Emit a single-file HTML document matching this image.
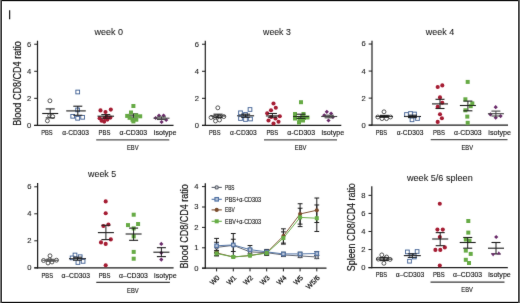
<!DOCTYPE html>
<html><head><meta charset="utf-8"><style>html,body{margin:0;padding:0;background:#fff;width:520px;height:303px;overflow:hidden}text{font-family:"Liberation Sans",sans-serif}</style></head><body>
<svg width="520" height="303" viewBox="0 0 520 303" style="display:block;will-change:transform">
<rect width="520" height="303" fill="#fff"/>
<defs><filter id="bl" x="-2%" y="-2%" width="104%" height="104%"><feConvolveMatrix order="3" kernelMatrix="0.01 0.05 0.01 0.05 0.76 0.05 0.01 0.05 0.01" edgeMode="none" preserveAlpha="false"/></filter></defs>
<g font-family='"Liberation Sans", sans-serif' filter="url(#bl)">
<line x1="9.60" y1="10.20" x2="9.60" y2="19.20" stroke="#1c1c1c" stroke-width="1.2"/>
<text x="94.60" y="34.90" font-size="9" text-anchor="start" textLength="28.50" lengthAdjust="spacingAndGlyphs" fill="#1a1a1a" stroke="#1a1a1a" stroke-width="0.08">week 0</text>
<line x1="37.50" y1="40.70" x2="37.50" y2="126.00" stroke="#1c1c1c" stroke-width="1.2"/>
<line x1="34.20" y1="125.40" x2="173.50" y2="125.40" stroke="#1c1c1c" stroke-width="1.3"/>
<line x1="34.20" y1="125.40" x2="37.50" y2="125.40" stroke="#1c1c1c" stroke-width="1.0"/>
<text x="31.30" y="127.85" font-size="7.6" text-anchor="end" fill="#2a2a2a" stroke="#2a2a2a" stroke-width="0.14">0</text>
<line x1="34.20" y1="98.34" x2="37.50" y2="98.34" stroke="#1c1c1c" stroke-width="1.0"/>
<text x="31.30" y="100.79" font-size="7.6" text-anchor="end" fill="#2a2a2a" stroke="#2a2a2a" stroke-width="0.14">2</text>
<line x1="34.20" y1="71.28" x2="37.50" y2="71.28" stroke="#1c1c1c" stroke-width="1.0"/>
<text x="31.30" y="73.73" font-size="7.6" text-anchor="end" fill="#2a2a2a" stroke="#2a2a2a" stroke-width="0.14">4</text>
<line x1="34.20" y1="44.22" x2="37.50" y2="44.22" stroke="#1c1c1c" stroke-width="1.0"/>
<text x="31.30" y="46.67" font-size="7.6" text-anchor="end" fill="#2a2a2a" stroke="#2a2a2a" stroke-width="0.14">6</text>
<text x="41.20" y="134.80" font-size="7.7" text-anchor="start" textLength="11.50" lengthAdjust="spacingAndGlyphs" fill="#151515" stroke="#151515" stroke-width="0.14">PBS</text>
<text x="62.30" y="134.80" font-size="7.7" text-anchor="start" textLength="26.60" lengthAdjust="spacingAndGlyphs" fill="#151515" stroke="#151515" stroke-width="0.14">α-CD303</text>
<text x="98.60" y="134.80" font-size="7.7" text-anchor="start" textLength="11.80" lengthAdjust="spacingAndGlyphs" fill="#151515" stroke="#151515" stroke-width="0.14">PBS</text>
<text x="119.50" y="134.80" font-size="7.7" text-anchor="start" textLength="27.70" lengthAdjust="spacingAndGlyphs" fill="#151515" stroke="#151515" stroke-width="0.14">α-CD303</text>
<text x="153.80" y="134.80" font-size="7.7" text-anchor="start" textLength="22.70" lengthAdjust="spacingAndGlyphs" fill="#151515" stroke="#151515" stroke-width="0.14">isotype</text>
<line x1="96.20" y1="139.90" x2="169.30" y2="139.90" stroke="#555" stroke-width="1.3"/>
<text x="127.00" y="150.20" font-size="7.7" text-anchor="start" textLength="11.60" lengthAdjust="spacingAndGlyphs" fill="#151515" stroke="#151515" stroke-width="0.14">EBV</text>
<circle cx="49.90" cy="100.80" r="1.95" fill="#fff" stroke="#3a3a3a" stroke-width="0.9"/>
<circle cx="49.60" cy="115.60" r="1.95" fill="#fff" stroke="#3a3a3a" stroke-width="0.9"/>
<circle cx="52.70" cy="116.50" r="1.95" fill="#fff" stroke="#3a3a3a" stroke-width="0.9"/>
<circle cx="47.40" cy="120.80" r="1.95" fill="#fff" stroke="#3a3a3a" stroke-width="0.9"/>
<line x1="42.20" y1="113.50" x2="58.20" y2="113.50" stroke="#1c1c1c" stroke-width="1.1"/>
<line x1="45.70" y1="108.90" x2="54.70" y2="108.90" stroke="#1c1c1c" stroke-width="1.1"/>
<line x1="45.70" y1="117.90" x2="54.70" y2="117.90" stroke="#1c1c1c" stroke-width="1.1"/>
<line x1="50.20" y1="108.90" x2="50.20" y2="117.90" stroke="#1c1c1c" stroke-width="0.9900000000000001"/>
<rect x="75.85" y="90.15" width="3.7" height="3.7" fill="#fff" stroke="#3e6196" stroke-width="0.95"/>
<rect x="75.75" y="108.05" width="3.7" height="3.7" fill="#fff" stroke="#3e6196" stroke-width="0.95"/>
<rect x="70.85" y="114.45" width="3.7" height="3.7" fill="#fff" stroke="#3e6196" stroke-width="0.95"/>
<rect x="75.75" y="116.45" width="3.7" height="3.7" fill="#fff" stroke="#3e6196" stroke-width="0.95"/>
<rect x="80.75" y="115.45" width="3.7" height="3.7" fill="#fff" stroke="#3e6196" stroke-width="0.95"/>
<line x1="66.25" y1="110.90" x2="85.75" y2="110.90" stroke="#1c1c1c" stroke-width="1.1"/>
<line x1="73.30" y1="106.20" x2="82.30" y2="106.20" stroke="#1c1c1c" stroke-width="1.1"/>
<line x1="73.30" y1="115.30" x2="82.30" y2="115.30" stroke="#1c1c1c" stroke-width="1.1"/>
<line x1="77.80" y1="106.20" x2="77.80" y2="115.30" stroke="#1c1c1c" stroke-width="0.9900000000000001"/>
<circle cx="100.50" cy="110.40" r="2.05" fill="#a51a33"/>
<circle cx="105.50" cy="112.00" r="2.05" fill="#a51a33"/>
<circle cx="110.80" cy="109.60" r="2.05" fill="#a51a33"/>
<circle cx="99.60" cy="118.30" r="2.05" fill="#a51a33"/>
<circle cx="101.60" cy="120.80" r="2.05" fill="#a51a33"/>
<circle cx="104.20" cy="121.60" r="2.05" fill="#a51a33"/>
<circle cx="107.40" cy="119.60" r="2.05" fill="#a51a33"/>
<circle cx="110.40" cy="117.60" r="2.05" fill="#a51a33"/>
<circle cx="104.60" cy="118.00" r="2.05" fill="#a51a33"/>
<circle cx="106.80" cy="116.80" r="2.05" fill="#a51a33"/>
<line x1="97.55" y1="116.20" x2="114.05" y2="116.20" stroke="#1c1c1c" stroke-width="1.1"/>
<line x1="101.30" y1="114.60" x2="110.30" y2="114.60" stroke="#1c1c1c" stroke-width="1.1"/>
<line x1="101.30" y1="118.20" x2="110.30" y2="118.20" stroke="#1c1c1c" stroke-width="1.1"/>
<line x1="105.80" y1="114.60" x2="105.80" y2="118.20" stroke="#1c1c1c" stroke-width="0.9900000000000001"/>
<line x1="126.40" y1="115.90" x2="140.40" y2="115.90" stroke="#1c1c1c" stroke-width="1.1"/>
<line x1="128.90" y1="113.90" x2="137.90" y2="113.90" stroke="#1c1c1c" stroke-width="1.1"/>
<line x1="128.90" y1="118.00" x2="137.90" y2="118.00" stroke="#1c1c1c" stroke-width="1.1"/>
<line x1="133.40" y1="113.90" x2="133.40" y2="118.00" stroke="#1c1c1c" stroke-width="0.9900000000000001"/>
<rect x="131.40" y="104.00" width="4.0" height="4.0" fill="#66aa44"/>
<rect x="129.00" y="110.50" width="4.0" height="4.0" fill="#66aa44"/>
<rect x="125.20" y="113.90" width="4.0" height="4.0" fill="#66aa44"/>
<rect x="138.20" y="114.30" width="4.0" height="4.0" fill="#66aa44"/>
<rect x="134.30" y="113.40" width="4.0" height="4.0" fill="#66aa44"/>
<rect x="130.50" y="117.70" width="4.0" height="4.0" fill="#66aa44"/>
<rect x="134.30" y="117.70" width="4.0" height="4.0" fill="#66aa44"/>
<rect x="127.60" y="115.80" width="4.0" height="4.0" fill="#66aa44"/>
<rect x="131.40" y="119.40" width="4.0" height="4.0" fill="#66aa44"/>
<path d="M159.00 113.40L161.10 115.50L159.00 117.60L156.90 115.50Z" fill="#6b2c6b"/>
<path d="M163.60 113.40L165.70 115.50L163.60 117.60L161.50 115.50Z" fill="#6b2c6b"/>
<path d="M155.70 115.90L157.80 118.00L155.70 120.10L153.60 118.00Z" fill="#6b2c6b"/>
<path d="M166.20 117.90L168.30 120.00L166.20 122.10L164.10 120.00Z" fill="#6b2c6b"/>
<path d="M161.60 119.90L163.70 122.00L161.60 124.10L159.50 122.00Z" fill="#6b2c6b"/>
<line x1="153.50" y1="118.20" x2="169.50" y2="118.20" stroke="#444" stroke-width="1.1"/>
<line x1="157.00" y1="116.90" x2="166.00" y2="116.90" stroke="#444" stroke-width="1.1"/>
<line x1="157.00" y1="119.50" x2="166.00" y2="119.50" stroke="#444" stroke-width="1.1"/>
<line x1="161.50" y1="116.90" x2="161.50" y2="119.50" stroke="#444" stroke-width="0.9900000000000001"/>
<text transform="translate(21.3,125.8) rotate(-90)" font-size="10" textLength="84.6" lengthAdjust="spacingAndGlyphs" fill="#151515" stroke="#151515" stroke-width="0.18">Blood CD8/CD4 ratio</text>
<text x="263.10" y="34.90" font-size="9" text-anchor="start" textLength="27.70" lengthAdjust="spacingAndGlyphs" fill="#1a1a1a" stroke="#1a1a1a" stroke-width="0.08">week 3</text>
<line x1="205.30" y1="40.70" x2="205.30" y2="126.00" stroke="#1c1c1c" stroke-width="1.2"/>
<line x1="202.00" y1="125.40" x2="341.30" y2="125.40" stroke="#1c1c1c" stroke-width="1.3"/>
<line x1="202.00" y1="125.40" x2="205.30" y2="125.40" stroke="#1c1c1c" stroke-width="1.0"/>
<text x="199.10" y="127.85" font-size="7.6" text-anchor="end" fill="#2a2a2a" stroke="#2a2a2a" stroke-width="0.14">0</text>
<line x1="202.00" y1="98.34" x2="205.30" y2="98.34" stroke="#1c1c1c" stroke-width="1.0"/>
<text x="199.10" y="100.79" font-size="7.6" text-anchor="end" fill="#2a2a2a" stroke="#2a2a2a" stroke-width="0.14">2</text>
<line x1="202.00" y1="71.28" x2="205.30" y2="71.28" stroke="#1c1c1c" stroke-width="1.0"/>
<text x="199.10" y="73.73" font-size="7.6" text-anchor="end" fill="#2a2a2a" stroke="#2a2a2a" stroke-width="0.14">4</text>
<line x1="202.00" y1="44.22" x2="205.30" y2="44.22" stroke="#1c1c1c" stroke-width="1.0"/>
<text x="199.10" y="46.67" font-size="7.6" text-anchor="end" fill="#2a2a2a" stroke="#2a2a2a" stroke-width="0.14">6</text>
<text x="209.00" y="134.80" font-size="7.7" text-anchor="start" textLength="11.50" lengthAdjust="spacingAndGlyphs" fill="#151515" stroke="#151515" stroke-width="0.14">PBS</text>
<text x="230.10" y="134.80" font-size="7.7" text-anchor="start" textLength="26.60" lengthAdjust="spacingAndGlyphs" fill="#151515" stroke="#151515" stroke-width="0.14">α-CD303</text>
<text x="266.40" y="134.80" font-size="7.7" text-anchor="start" textLength="11.80" lengthAdjust="spacingAndGlyphs" fill="#151515" stroke="#151515" stroke-width="0.14">PBS</text>
<text x="287.30" y="134.80" font-size="7.7" text-anchor="start" textLength="27.70" lengthAdjust="spacingAndGlyphs" fill="#151515" stroke="#151515" stroke-width="0.14">α-CD303</text>
<text x="321.60" y="134.80" font-size="7.7" text-anchor="start" textLength="22.70" lengthAdjust="spacingAndGlyphs" fill="#151515" stroke="#151515" stroke-width="0.14">isotype</text>
<line x1="264.00" y1="139.90" x2="337.00" y2="139.90" stroke="#555" stroke-width="1.3"/>
<text x="294.80" y="150.20" font-size="7.7" text-anchor="start" textLength="11.60" lengthAdjust="spacingAndGlyphs" fill="#151515" stroke="#151515" stroke-width="0.14">EBV</text>
<circle cx="217.80" cy="107.80" r="1.95" fill="#fff" stroke="#3a3a3a" stroke-width="0.9"/>
<circle cx="211.00" cy="117.50" r="1.95" fill="#fff" stroke="#3a3a3a" stroke-width="0.9"/>
<circle cx="215.00" cy="117.60" r="1.95" fill="#fff" stroke="#3a3a3a" stroke-width="0.9"/>
<circle cx="219.50" cy="117.00" r="1.95" fill="#fff" stroke="#3a3a3a" stroke-width="0.9"/>
<circle cx="223.80" cy="116.60" r="1.95" fill="#fff" stroke="#3a3a3a" stroke-width="0.9"/>
<circle cx="215.50" cy="121.00" r="1.95" fill="#fff" stroke="#3a3a3a" stroke-width="0.9"/>
<circle cx="219.50" cy="120.00" r="1.95" fill="#fff" stroke="#3a3a3a" stroke-width="0.9"/>
<line x1="210.50" y1="116.00" x2="225.50" y2="116.00" stroke="#1c1c1c" stroke-width="1.1"/>
<line x1="213.50" y1="114.20" x2="222.50" y2="114.20" stroke="#1c1c1c" stroke-width="1.1"/>
<line x1="213.50" y1="117.60" x2="222.50" y2="117.60" stroke="#1c1c1c" stroke-width="1.1"/>
<line x1="218.00" y1="114.20" x2="218.00" y2="117.60" stroke="#1c1c1c" stroke-width="0.9900000000000001"/>
<rect x="248.15" y="107.65" width="3.7" height="3.7" fill="#fff" stroke="#3e6196" stroke-width="0.95"/>
<rect x="238.65" y="110.95" width="3.7" height="3.7" fill="#fff" stroke="#3e6196" stroke-width="0.95"/>
<rect x="243.65" y="112.65" width="3.7" height="3.7" fill="#fff" stroke="#3e6196" stroke-width="0.95"/>
<rect x="238.65" y="116.65" width="3.7" height="3.7" fill="#fff" stroke="#3e6196" stroke-width="0.95"/>
<rect x="243.65" y="117.65" width="3.7" height="3.7" fill="#fff" stroke="#3e6196" stroke-width="0.95"/>
<rect x="248.65" y="117.15" width="3.7" height="3.7" fill="#fff" stroke="#3e6196" stroke-width="0.95"/>
<line x1="237.10" y1="115.80" x2="254.10" y2="115.80" stroke="#1c1c1c" stroke-width="1.1"/>
<line x1="241.10" y1="114.20" x2="250.10" y2="114.20" stroke="#1c1c1c" stroke-width="1.1"/>
<line x1="241.10" y1="117.40" x2="250.10" y2="117.40" stroke="#1c1c1c" stroke-width="1.1"/>
<line x1="245.60" y1="114.20" x2="245.60" y2="117.40" stroke="#1c1c1c" stroke-width="0.9900000000000001"/>
<circle cx="273.50" cy="103.50" r="2.05" fill="#a51a33"/>
<circle cx="275.80" cy="107.80" r="2.05" fill="#a51a33"/>
<circle cx="271.00" cy="110.20" r="2.05" fill="#a51a33"/>
<circle cx="267.20" cy="113.20" r="2.05" fill="#a51a33"/>
<circle cx="271.20" cy="117.00" r="2.05" fill="#a51a33"/>
<circle cx="275.50" cy="118.50" r="2.05" fill="#a51a33"/>
<circle cx="279.80" cy="116.20" r="2.05" fill="#a51a33"/>
<circle cx="268.50" cy="120.50" r="2.05" fill="#a51a33"/>
<circle cx="278.50" cy="121.80" r="2.05" fill="#a51a33"/>
<circle cx="273.50" cy="123.50" r="2.05" fill="#a51a33"/>
<line x1="265.90" y1="115.90" x2="278.90" y2="115.90" stroke="#1c1c1c" stroke-width="1.1"/>
<line x1="267.90" y1="113.50" x2="276.90" y2="113.50" stroke="#1c1c1c" stroke-width="1.1"/>
<line x1="267.90" y1="117.20" x2="276.90" y2="117.20" stroke="#1c1c1c" stroke-width="1.1"/>
<line x1="272.40" y1="113.50" x2="272.40" y2="117.20" stroke="#1c1c1c" stroke-width="0.9900000000000001"/>
<rect x="299.00" y="100.20" width="4.0" height="4.0" fill="#66aa44"/>
<rect x="293.00" y="112.00" width="4.0" height="4.0" fill="#66aa44"/>
<rect x="301.50" y="112.00" width="4.0" height="4.0" fill="#66aa44"/>
<rect x="293.00" y="116.50" width="4.0" height="4.0" fill="#66aa44"/>
<rect x="297.50" y="117.00" width="4.0" height="4.0" fill="#66aa44"/>
<rect x="302.00" y="116.00" width="4.0" height="4.0" fill="#66aa44"/>
<rect x="305.50" y="115.50" width="4.0" height="4.0" fill="#66aa44"/>
<rect x="297.00" y="120.50" width="4.0" height="4.0" fill="#66aa44"/>
<rect x="301.00" y="118.50" width="4.0" height="4.0" fill="#66aa44"/>
<line x1="293.00" y1="116.50" x2="309.00" y2="116.50" stroke="#1c1c1c" stroke-width="1.1"/>
<line x1="296.50" y1="114.20" x2="305.50" y2="114.20" stroke="#1c1c1c" stroke-width="1.1"/>
<line x1="296.50" y1="118.40" x2="305.50" y2="118.40" stroke="#1c1c1c" stroke-width="1.1"/>
<line x1="301.00" y1="114.20" x2="301.00" y2="118.40" stroke="#1c1c1c" stroke-width="0.9900000000000001"/>
<path d="M326.80 109.70L328.90 111.80L326.80 113.90L324.70 111.80Z" fill="#6b2c6b"/>
<path d="M331.10 111.40L333.20 113.50L331.10 115.60L329.00 113.50Z" fill="#6b2c6b"/>
<path d="M324.20 113.20L326.30 115.30L324.20 117.40L322.10 115.30Z" fill="#6b2c6b"/>
<path d="M332.90 114.90L335.00 117.00L332.90 119.10L330.80 117.00Z" fill="#6b2c6b"/>
<path d="M328.50 118.40L330.60 120.50L328.50 122.60L326.40 120.50Z" fill="#6b2c6b"/>
<line x1="321.20" y1="116.50" x2="337.20" y2="116.50" stroke="#444" stroke-width="1.1"/>
<line x1="324.70" y1="115.20" x2="333.70" y2="115.20" stroke="#444" stroke-width="1.1"/>
<line x1="324.70" y1="117.80" x2="333.70" y2="117.80" stroke="#444" stroke-width="1.1"/>
<line x1="329.20" y1="115.20" x2="329.20" y2="117.80" stroke="#444" stroke-width="0.9900000000000001"/>
<text x="425.80" y="34.90" font-size="9" text-anchor="start" textLength="28.40" lengthAdjust="spacingAndGlyphs" fill="#1a1a1a" stroke="#1a1a1a" stroke-width="0.08">week 4</text>
<line x1="372.00" y1="40.70" x2="372.00" y2="125.80" stroke="#1c1c1c" stroke-width="1.2"/>
<line x1="368.70" y1="125.20" x2="508.00" y2="125.20" stroke="#1c1c1c" stroke-width="1.3"/>
<line x1="368.70" y1="125.20" x2="372.00" y2="125.20" stroke="#1c1c1c" stroke-width="1.0"/>
<text x="365.80" y="127.65" font-size="7.6" text-anchor="end" fill="#2a2a2a" stroke="#2a2a2a" stroke-width="0.14">0</text>
<line x1="368.70" y1="98.14" x2="372.00" y2="98.14" stroke="#1c1c1c" stroke-width="1.0"/>
<text x="365.80" y="100.59" font-size="7.6" text-anchor="end" fill="#2a2a2a" stroke="#2a2a2a" stroke-width="0.14">2</text>
<line x1="368.70" y1="71.08" x2="372.00" y2="71.08" stroke="#1c1c1c" stroke-width="1.0"/>
<text x="365.80" y="73.53" font-size="7.6" text-anchor="end" fill="#2a2a2a" stroke="#2a2a2a" stroke-width="0.14">4</text>
<line x1="368.70" y1="44.02" x2="372.00" y2="44.02" stroke="#1c1c1c" stroke-width="1.0"/>
<text x="365.80" y="46.47" font-size="7.6" text-anchor="end" fill="#2a2a2a" stroke="#2a2a2a" stroke-width="0.14">6</text>
<text x="375.70" y="134.60" font-size="7.7" text-anchor="start" textLength="11.50" lengthAdjust="spacingAndGlyphs" fill="#151515" stroke="#151515" stroke-width="0.14">PBS</text>
<text x="396.80" y="134.60" font-size="7.7" text-anchor="start" textLength="26.60" lengthAdjust="spacingAndGlyphs" fill="#151515" stroke="#151515" stroke-width="0.14">α-CD303</text>
<text x="433.10" y="134.60" font-size="7.7" text-anchor="start" textLength="11.80" lengthAdjust="spacingAndGlyphs" fill="#151515" stroke="#151515" stroke-width="0.14">PBS</text>
<text x="454.00" y="134.60" font-size="7.7" text-anchor="start" textLength="27.70" lengthAdjust="spacingAndGlyphs" fill="#151515" stroke="#151515" stroke-width="0.14">α-CD303</text>
<text x="488.30" y="134.60" font-size="7.7" text-anchor="start" textLength="22.70" lengthAdjust="spacingAndGlyphs" fill="#151515" stroke="#151515" stroke-width="0.14">isotype</text>
<line x1="430.70" y1="139.70" x2="507.50" y2="139.70" stroke="#555" stroke-width="1.3"/>
<text x="461.50" y="150.00" font-size="7.7" text-anchor="start" textLength="11.60" lengthAdjust="spacingAndGlyphs" fill="#151515" stroke="#151515" stroke-width="0.14">EBV</text>
<circle cx="384.00" cy="111.80" r="1.95" fill="#fff" stroke="#3a3a3a" stroke-width="0.9"/>
<circle cx="377.80" cy="117.00" r="1.95" fill="#fff" stroke="#3a3a3a" stroke-width="0.9"/>
<circle cx="382.00" cy="118.60" r="1.95" fill="#fff" stroke="#3a3a3a" stroke-width="0.9"/>
<circle cx="386.50" cy="118.60" r="1.95" fill="#fff" stroke="#3a3a3a" stroke-width="0.9"/>
<circle cx="390.50" cy="117.00" r="1.95" fill="#fff" stroke="#3a3a3a" stroke-width="0.9"/>
<line x1="375.90" y1="116.50" x2="392.90" y2="116.50" stroke="#1c1c1c" stroke-width="1.1"/>
<line x1="379.90" y1="115.40" x2="388.90" y2="115.40" stroke="#1c1c1c" stroke-width="1.1"/>
<line x1="379.90" y1="117.40" x2="388.90" y2="117.40" stroke="#1c1c1c" stroke-width="1.1"/>
<line x1="384.40" y1="115.40" x2="384.40" y2="117.40" stroke="#1c1c1c" stroke-width="0.9900000000000001"/>
<rect x="404.65" y="112.65" width="3.7" height="3.7" fill="#fff" stroke="#3e6196" stroke-width="0.95"/>
<rect x="408.65" y="111.65" width="3.7" height="3.7" fill="#fff" stroke="#3e6196" stroke-width="0.95"/>
<rect x="412.65" y="112.15" width="3.7" height="3.7" fill="#fff" stroke="#3e6196" stroke-width="0.95"/>
<rect x="410.15" y="117.95" width="3.7" height="3.7" fill="#fff" stroke="#3e6196" stroke-width="0.95"/>
<rect x="415.65" y="116.65" width="3.7" height="3.7" fill="#fff" stroke="#3e6196" stroke-width="0.95"/>
<line x1="404.00" y1="116.50" x2="421.00" y2="116.50" stroke="#1c1c1c" stroke-width="1.1"/>
<line x1="408.00" y1="115.20" x2="417.00" y2="115.20" stroke="#1c1c1c" stroke-width="1.1"/>
<line x1="408.00" y1="117.60" x2="417.00" y2="117.60" stroke="#1c1c1c" stroke-width="1.1"/>
<line x1="412.50" y1="115.20" x2="412.50" y2="117.60" stroke="#1c1c1c" stroke-width="0.9900000000000001"/>
<circle cx="437.70" cy="87.00" r="2.05" fill="#a51a33"/>
<circle cx="442.30" cy="85.40" r="2.05" fill="#a51a33"/>
<circle cx="440.00" cy="97.40" r="2.05" fill="#a51a33"/>
<circle cx="442.30" cy="102.70" r="2.05" fill="#a51a33"/>
<circle cx="437.70" cy="106.90" r="2.05" fill="#a51a33"/>
<circle cx="440.00" cy="114.30" r="2.05" fill="#a51a33"/>
<circle cx="441.90" cy="118.20" r="2.05" fill="#a51a33"/>
<circle cx="437.70" cy="121.90" r="2.05" fill="#a51a33"/>
<line x1="432.00" y1="103.90" x2="448.00" y2="103.90" stroke="#1c1c1c" stroke-width="1.1"/>
<line x1="435.50" y1="99.30" x2="444.50" y2="99.30" stroke="#1c1c1c" stroke-width="1.1"/>
<line x1="435.50" y1="108.50" x2="444.50" y2="108.50" stroke="#1c1c1c" stroke-width="1.1"/>
<line x1="440.00" y1="99.30" x2="440.00" y2="108.50" stroke="#1c1c1c" stroke-width="0.9900000000000001"/>
<rect x="465.70" y="79.90" width="4.0" height="4.0" fill="#66aa44"/>
<rect x="463.40" y="97.30" width="4.0" height="4.0" fill="#66aa44"/>
<rect x="470.30" y="101.40" width="4.0" height="4.0" fill="#66aa44"/>
<rect x="468.70" y="104.20" width="4.0" height="4.0" fill="#66aa44"/>
<rect x="463.40" y="108.30" width="4.0" height="4.0" fill="#66aa44"/>
<rect x="465.30" y="114.60" width="4.0" height="4.0" fill="#66aa44"/>
<rect x="465.70" y="120.80" width="4.0" height="4.0" fill="#66aa44"/>
<line x1="459.90" y1="105.50" x2="475.90" y2="105.50" stroke="#1c1c1c" stroke-width="1.1"/>
<line x1="463.40" y1="101.10" x2="472.40" y2="101.10" stroke="#1c1c1c" stroke-width="1.1"/>
<line x1="463.40" y1="110.80" x2="472.40" y2="110.80" stroke="#1c1c1c" stroke-width="1.1"/>
<line x1="467.90" y1="101.10" x2="467.90" y2="110.80" stroke="#1c1c1c" stroke-width="0.9900000000000001"/>
<path d="M495.70 105.10L497.80 107.20L495.70 109.30L493.60 107.20Z" fill="#6b2c6b"/>
<path d="M490.40 112.30L492.50 114.40L490.40 116.50L488.30 114.40Z" fill="#6b2c6b"/>
<path d="M495.70 115.60L497.80 117.70L495.70 119.80L493.60 117.70Z" fill="#6b2c6b"/>
<path d="M500.60 114.00L502.70 116.10L500.60 118.20L498.50 116.10Z" fill="#6b2c6b"/>
<line x1="487.90" y1="113.70" x2="503.90" y2="113.70" stroke="#444" stroke-width="1.1"/>
<line x1="491.40" y1="111.10" x2="500.40" y2="111.10" stroke="#444" stroke-width="1.1"/>
<line x1="491.40" y1="116.00" x2="500.40" y2="116.00" stroke="#444" stroke-width="1.1"/>
<line x1="495.90" y1="111.10" x2="495.90" y2="116.00" stroke="#444" stroke-width="0.9900000000000001"/>
<text x="88.10" y="177.30" font-size="9" text-anchor="start" textLength="28.10" lengthAdjust="spacingAndGlyphs" fill="#1a1a1a" stroke="#1a1a1a" stroke-width="0.08">week 5</text>
<line x1="37.60" y1="183.00" x2="37.60" y2="268.40" stroke="#1c1c1c" stroke-width="1.2"/>
<line x1="34.30" y1="267.80" x2="173.60" y2="267.80" stroke="#1c1c1c" stroke-width="1.3"/>
<line x1="34.30" y1="267.80" x2="37.60" y2="267.80" stroke="#1c1c1c" stroke-width="1.0"/>
<text x="31.40" y="270.25" font-size="7.6" text-anchor="end" fill="#2a2a2a" stroke="#2a2a2a" stroke-width="0.14">0</text>
<line x1="34.30" y1="240.80" x2="37.60" y2="240.80" stroke="#1c1c1c" stroke-width="1.0"/>
<text x="31.40" y="243.25" font-size="7.6" text-anchor="end" fill="#2a2a2a" stroke="#2a2a2a" stroke-width="0.14">2</text>
<line x1="34.30" y1="213.80" x2="37.60" y2="213.80" stroke="#1c1c1c" stroke-width="1.0"/>
<text x="31.40" y="216.25" font-size="7.6" text-anchor="end" fill="#2a2a2a" stroke="#2a2a2a" stroke-width="0.14">4</text>
<line x1="34.30" y1="186.80" x2="37.60" y2="186.80" stroke="#1c1c1c" stroke-width="1.0"/>
<text x="31.40" y="189.25" font-size="7.6" text-anchor="end" fill="#2a2a2a" stroke="#2a2a2a" stroke-width="0.14">6</text>
<text x="41.50" y="277.60" font-size="7.7" text-anchor="start" textLength="11.50" lengthAdjust="spacingAndGlyphs" fill="#151515" stroke="#151515" stroke-width="0.14">PBS</text>
<text x="61.50" y="277.60" font-size="7.7" text-anchor="start" textLength="28.50" lengthAdjust="spacingAndGlyphs" fill="#151515" stroke="#151515" stroke-width="0.14">α–CD303</text>
<text x="98.70" y="277.60" font-size="7.7" text-anchor="start" textLength="11.80" lengthAdjust="spacingAndGlyphs" fill="#151515" stroke="#151515" stroke-width="0.14">PBS</text>
<text x="118.90" y="277.60" font-size="7.7" text-anchor="start" textLength="29.00" lengthAdjust="spacingAndGlyphs" fill="#151515" stroke="#151515" stroke-width="0.14">α–CD303</text>
<text x="154.10" y="277.60" font-size="7.7" text-anchor="start" textLength="22.50" lengthAdjust="spacingAndGlyphs" fill="#151515" stroke="#151515" stroke-width="0.14">isotype</text>
<line x1="96.30" y1="282.30" x2="169.90" y2="282.30" stroke="#3a3a3a" stroke-width="1.3"/>
<text x="127.10" y="292.60" font-size="7.7" text-anchor="start" textLength="11.60" lengthAdjust="spacingAndGlyphs" fill="#151515" stroke="#151515" stroke-width="0.14">EBV</text>
<circle cx="50.00" cy="255.80" r="1.95" fill="#fff" stroke="#3a3a3a" stroke-width="0.9"/>
<circle cx="43.50" cy="260.50" r="1.95" fill="#fff" stroke="#3a3a3a" stroke-width="0.9"/>
<circle cx="49.60" cy="259.80" r="1.95" fill="#fff" stroke="#3a3a3a" stroke-width="0.9"/>
<circle cx="52.00" cy="262.00" r="1.95" fill="#fff" stroke="#3a3a3a" stroke-width="0.9"/>
<circle cx="56.50" cy="260.20" r="1.95" fill="#fff" stroke="#3a3a3a" stroke-width="0.9"/>
<circle cx="48.00" cy="263.00" r="1.95" fill="#fff" stroke="#3a3a3a" stroke-width="0.9"/>
<line x1="42.20" y1="260.30" x2="58.20" y2="260.30" stroke="#555" stroke-width="1.1"/>
<line x1="45.70" y1="259.30" x2="54.70" y2="259.30" stroke="#555" stroke-width="1.1"/>
<line x1="45.70" y1="261.30" x2="54.70" y2="261.30" stroke="#555" stroke-width="1.1"/>
<line x1="50.20" y1="259.30" x2="50.20" y2="261.30" stroke="#555" stroke-width="0.9900000000000001"/>
<rect x="73.15" y="253.15" width="3.7" height="3.7" fill="#fff" stroke="#3e6196" stroke-width="0.95"/>
<rect x="78.35" y="254.85" width="3.7" height="3.7" fill="#fff" stroke="#3e6196" stroke-width="0.95"/>
<rect x="70.25" y="256.05" width="3.7" height="3.7" fill="#fff" stroke="#3e6196" stroke-width="0.95"/>
<rect x="76.05" y="260.65" width="3.7" height="3.7" fill="#fff" stroke="#3e6196" stroke-width="0.95"/>
<rect x="81.25" y="259.55" width="3.7" height="3.7" fill="#fff" stroke="#3e6196" stroke-width="0.95"/>
<line x1="69.00" y1="258.70" x2="86.00" y2="258.70" stroke="#1c1c1c" stroke-width="1.1"/>
<line x1="73.00" y1="257.20" x2="82.00" y2="257.20" stroke="#1c1c1c" stroke-width="1.1"/>
<line x1="73.00" y1="260.20" x2="82.00" y2="260.20" stroke="#1c1c1c" stroke-width="1.1"/>
<line x1="77.50" y1="257.20" x2="77.50" y2="260.20" stroke="#1c1c1c" stroke-width="0.9900000000000001"/>
<circle cx="105.70" cy="201.40" r="2.05" fill="#a51a33"/>
<circle cx="105.70" cy="213.30" r="2.05" fill="#a51a33"/>
<circle cx="103.40" cy="226.00" r="2.05" fill="#a51a33"/>
<circle cx="108.40" cy="224.50" r="2.05" fill="#a51a33"/>
<circle cx="101.00" cy="242.40" r="2.05" fill="#a51a33"/>
<circle cx="105.70" cy="243.90" r="2.05" fill="#a51a33"/>
<circle cx="110.80" cy="239.40" r="2.05" fill="#a51a33"/>
<circle cx="105.70" cy="265.20" r="2.05" fill="#a51a33"/>
<line x1="97.90" y1="232.60" x2="113.90" y2="232.60" stroke="#1c1c1c" stroke-width="1.1"/>
<line x1="101.40" y1="225.30" x2="110.40" y2="225.30" stroke="#1c1c1c" stroke-width="1.1"/>
<line x1="101.40" y1="239.60" x2="110.40" y2="239.60" stroke="#1c1c1c" stroke-width="1.1"/>
<line x1="105.90" y1="225.30" x2="105.90" y2="239.60" stroke="#1c1c1c" stroke-width="0.9900000000000001"/>
<rect x="131.70" y="212.70" width="4.0" height="4.0" fill="#66aa44"/>
<rect x="126.00" y="223.10" width="4.0" height="4.0" fill="#66aa44"/>
<rect x="136.10" y="222.00" width="4.0" height="4.0" fill="#66aa44"/>
<rect x="131.70" y="226.40" width="4.0" height="4.0" fill="#66aa44"/>
<rect x="131.70" y="234.40" width="4.0" height="4.0" fill="#66aa44"/>
<rect x="131.70" y="249.90" width="4.0" height="4.0" fill="#66aa44"/>
<rect x="131.70" y="256.70" width="4.0" height="4.0" fill="#66aa44"/>
<line x1="125.60" y1="234.00" x2="141.60" y2="234.00" stroke="#1c1c1c" stroke-width="1.1"/>
<line x1="129.10" y1="228.10" x2="138.10" y2="228.10" stroke="#1c1c1c" stroke-width="1.1"/>
<line x1="129.10" y1="240.30" x2="138.10" y2="240.30" stroke="#1c1c1c" stroke-width="1.1"/>
<line x1="133.60" y1="228.10" x2="133.60" y2="240.30" stroke="#1c1c1c" stroke-width="0.9900000000000001"/>
<path d="M161.30 241.80L163.40 243.90L161.30 246.00L159.20 243.90Z" fill="#6b2c6b"/>
<path d="M161.30 250.70L163.40 252.80L161.30 254.90L159.20 252.80Z" fill="#6b2c6b"/>
<path d="M161.30 257.50L163.40 259.60L161.30 261.70L159.20 259.60Z" fill="#6b2c6b"/>
<line x1="153.40" y1="252.20" x2="169.40" y2="252.20" stroke="#1c1c1c" stroke-width="1.1"/>
<line x1="156.90" y1="247.70" x2="165.90" y2="247.70" stroke="#1c1c1c" stroke-width="1.1"/>
<line x1="156.90" y1="256.60" x2="165.90" y2="256.60" stroke="#1c1c1c" stroke-width="1.1"/>
<line x1="161.40" y1="247.70" x2="161.40" y2="256.60" stroke="#1c1c1c" stroke-width="0.9900000000000001"/>
<text x="407.00" y="180.50" font-size="9" text-anchor="start" textLength="65.70" lengthAdjust="spacingAndGlyphs" fill="#1a1a1a" stroke="#1a1a1a" stroke-width="0.08">week 5/6 spleen</text>
<line x1="371.80" y1="186.30" x2="371.80" y2="268.20" stroke="#1c1c1c" stroke-width="1.2"/>
<line x1="368.50" y1="267.60" x2="507.80" y2="267.60" stroke="#1c1c1c" stroke-width="1.3"/>
<line x1="368.50" y1="267.60" x2="371.80" y2="267.60" stroke="#1c1c1c" stroke-width="1.0"/>
<text x="365.60" y="270.05" font-size="7.6" text-anchor="end" fill="#2a2a2a" stroke="#2a2a2a" stroke-width="0.14">0</text>
<line x1="368.50" y1="249.54" x2="371.80" y2="249.54" stroke="#1c1c1c" stroke-width="1.0"/>
<text x="365.60" y="251.99" font-size="7.6" text-anchor="end" fill="#2a2a2a" stroke="#2a2a2a" stroke-width="0.14">2</text>
<line x1="368.50" y1="231.48" x2="371.80" y2="231.48" stroke="#1c1c1c" stroke-width="1.0"/>
<text x="365.60" y="233.93" font-size="7.6" text-anchor="end" fill="#2a2a2a" stroke="#2a2a2a" stroke-width="0.14">4</text>
<line x1="368.50" y1="213.42" x2="371.80" y2="213.42" stroke="#1c1c1c" stroke-width="1.0"/>
<text x="365.60" y="215.87" font-size="7.6" text-anchor="end" fill="#2a2a2a" stroke="#2a2a2a" stroke-width="0.14">6</text>
<line x1="368.50" y1="195.36" x2="371.80" y2="195.36" stroke="#1c1c1c" stroke-width="1.0"/>
<text x="365.60" y="197.81" font-size="7.6" text-anchor="end" fill="#2a2a2a" stroke="#2a2a2a" stroke-width="0.14">8</text>
<text x="375.70" y="277.40" font-size="7.7" text-anchor="start" textLength="11.50" lengthAdjust="spacingAndGlyphs" fill="#151515" stroke="#151515" stroke-width="0.14">PBS</text>
<text x="395.70" y="277.40" font-size="7.7" text-anchor="start" textLength="28.50" lengthAdjust="spacingAndGlyphs" fill="#151515" stroke="#151515" stroke-width="0.14">α–CD303</text>
<text x="432.90" y="277.40" font-size="7.7" text-anchor="start" textLength="11.80" lengthAdjust="spacingAndGlyphs" fill="#151515" stroke="#151515" stroke-width="0.14">PBS</text>
<text x="453.10" y="277.40" font-size="7.7" text-anchor="start" textLength="29.00" lengthAdjust="spacingAndGlyphs" fill="#151515" stroke="#151515" stroke-width="0.14">α–CD303</text>
<text x="488.30" y="277.40" font-size="7.7" text-anchor="start" textLength="22.50" lengthAdjust="spacingAndGlyphs" fill="#151515" stroke="#151515" stroke-width="0.14">isotype</text>
<line x1="430.50" y1="282.10" x2="504.50" y2="282.10" stroke="#3a3a3a" stroke-width="1.3"/>
<text x="461.30" y="292.40" font-size="7.7" text-anchor="start" textLength="11.60" lengthAdjust="spacingAndGlyphs" fill="#151515" stroke="#151515" stroke-width="0.14">EBV</text>
<circle cx="381.80" cy="254.90" r="1.95" fill="#fff" stroke="#3a3a3a" stroke-width="0.9"/>
<circle cx="378.30" cy="259.10" r="1.95" fill="#fff" stroke="#3a3a3a" stroke-width="0.9"/>
<circle cx="386.60" cy="257.00" r="1.95" fill="#fff" stroke="#3a3a3a" stroke-width="0.9"/>
<circle cx="390.10" cy="259.40" r="1.95" fill="#fff" stroke="#3a3a3a" stroke-width="0.9"/>
<circle cx="383.90" cy="263.30" r="1.95" fill="#fff" stroke="#3a3a3a" stroke-width="0.9"/>
<circle cx="385.20" cy="258.80" r="1.95" fill="#fff" stroke="#3a3a3a" stroke-width="0.9"/>
<line x1="376.20" y1="259.10" x2="392.20" y2="259.10" stroke="#1c1c1c" stroke-width="1.1"/>
<line x1="379.70" y1="257.60" x2="388.70" y2="257.60" stroke="#1c1c1c" stroke-width="1.1"/>
<line x1="379.70" y1="260.60" x2="388.70" y2="260.60" stroke="#1c1c1c" stroke-width="1.1"/>
<line x1="384.20" y1="257.60" x2="384.20" y2="260.60" stroke="#1c1c1c" stroke-width="0.9900000000000001"/>
<rect x="405.55" y="250.05" width="3.7" height="3.7" fill="#fff" stroke="#3e6196" stroke-width="0.95"/>
<rect x="415.25" y="249.65" width="3.7" height="3.7" fill="#fff" stroke="#3e6196" stroke-width="0.95"/>
<rect x="409.75" y="253.75" width="3.7" height="3.7" fill="#fff" stroke="#3e6196" stroke-width="0.95"/>
<rect x="412.45" y="255.15" width="3.7" height="3.7" fill="#fff" stroke="#3e6196" stroke-width="0.95"/>
<rect x="407.65" y="259.35" width="3.7" height="3.7" fill="#fff" stroke="#3e6196" stroke-width="0.95"/>
<line x1="403.80" y1="255.60" x2="420.80" y2="255.60" stroke="#1c1c1c" stroke-width="1.1"/>
<line x1="407.80" y1="253.80" x2="416.80" y2="253.80" stroke="#1c1c1c" stroke-width="1.1"/>
<line x1="407.80" y1="257.40" x2="416.80" y2="257.40" stroke="#1c1c1c" stroke-width="1.1"/>
<line x1="412.30" y1="253.80" x2="412.30" y2="257.40" stroke="#1c1c1c" stroke-width="0.9900000000000001"/>
<circle cx="439.80" cy="203.70" r="2.05" fill="#a51a33"/>
<circle cx="437.40" cy="229.60" r="2.05" fill="#a51a33"/>
<circle cx="442.80" cy="229.60" r="2.05" fill="#a51a33"/>
<circle cx="439.80" cy="237.00" r="2.05" fill="#a51a33"/>
<circle cx="444.80" cy="247.40" r="2.05" fill="#a51a33"/>
<circle cx="435.40" cy="249.90" r="2.05" fill="#a51a33"/>
<circle cx="440.30" cy="249.90" r="2.05" fill="#a51a33"/>
<circle cx="439.80" cy="265.50" r="2.05" fill="#a51a33"/>
<line x1="432.20" y1="239.00" x2="448.20" y2="239.00" stroke="#1c1c1c" stroke-width="1.1"/>
<line x1="435.70" y1="232.60" x2="444.70" y2="232.60" stroke="#1c1c1c" stroke-width="1.1"/>
<line x1="435.70" y1="245.70" x2="444.70" y2="245.70" stroke="#1c1c1c" stroke-width="1.1"/>
<line x1="440.20" y1="232.60" x2="440.20" y2="245.70" stroke="#1c1c1c" stroke-width="0.9900000000000001"/>
<rect x="466.30" y="219.00" width="4.0" height="4.0" fill="#66aa44"/>
<rect x="466.30" y="230.60" width="4.0" height="4.0" fill="#66aa44"/>
<rect x="463.80" y="237.50" width="4.0" height="4.0" fill="#66aa44"/>
<rect x="467.50" y="238.70" width="4.0" height="4.0" fill="#66aa44"/>
<rect x="463.80" y="248.60" width="4.0" height="4.0" fill="#66aa44"/>
<rect x="468.70" y="251.90" width="4.0" height="4.0" fill="#66aa44"/>
<rect x="463.80" y="257.80" width="4.0" height="4.0" fill="#66aa44"/>
<rect x="467.00" y="261.00" width="4.0" height="4.0" fill="#66aa44"/>
<line x1="459.70" y1="242.50" x2="475.70" y2="242.50" stroke="#1c1c1c" stroke-width="1.1"/>
<line x1="463.20" y1="237.50" x2="472.20" y2="237.50" stroke="#1c1c1c" stroke-width="1.1"/>
<line x1="463.20" y1="248.20" x2="472.20" y2="248.20" stroke="#1c1c1c" stroke-width="1.1"/>
<line x1="467.70" y1="237.50" x2="467.70" y2="248.20" stroke="#1c1c1c" stroke-width="0.9900000000000001"/>
<path d="M496.20 234.90L498.30 237.00L496.20 239.10L494.10 237.00Z" fill="#6b2c6b"/>
<line x1="488.00" y1="248.20" x2="504.00" y2="248.20" stroke="#1c1c1c" stroke-width="1.1"/>
<line x1="491.50" y1="242.50" x2="500.50" y2="242.50" stroke="#1c1c1c" stroke-width="1.1"/>
<line x1="491.50" y1="253.90" x2="500.50" y2="253.90" stroke="#1c1c1c" stroke-width="1.1"/>
<line x1="496.00" y1="242.50" x2="496.00" y2="253.90" stroke="#1c1c1c" stroke-width="0.9900000000000001"/>
<path d="M490.9 253.2L495.3 253.2L493.1 256.6Z" fill="#6b2c6b"/>
<path d="M496.6 254.6L501.0 254.6L498.8 251.2Z" fill="#6b2c6b"/>
<text transform="translate(355.3,271.2) rotate(-90)" font-size="10" textLength="88.0" lengthAdjust="spacingAndGlyphs" fill="#151515" stroke="#151515" stroke-width="0.18">Spleen CD8/CD4 ratio</text>
<line x1="205.30" y1="183.20" x2="205.30" y2="268.80" stroke="#1c1c1c" stroke-width="1.3"/>
<line x1="202.00" y1="268.20" x2="326.50" y2="268.20" stroke="#1c1c1c" stroke-width="1.3"/>
<line x1="202.00" y1="268.20" x2="205.30" y2="268.20" stroke="#1c1c1c" stroke-width="1.0"/>
<text x="198.50" y="270.65" font-size="7.6" text-anchor="end" fill="#2a2a2a" stroke="#2a2a2a" stroke-width="0.14">0</text>
<line x1="202.00" y1="247.80" x2="205.30" y2="247.80" stroke="#1c1c1c" stroke-width="1.0"/>
<text x="198.50" y="250.25" font-size="7.6" text-anchor="end" fill="#2a2a2a" stroke="#2a2a2a" stroke-width="0.14">1</text>
<line x1="202.00" y1="227.40" x2="205.30" y2="227.40" stroke="#1c1c1c" stroke-width="1.0"/>
<text x="198.50" y="229.85" font-size="7.6" text-anchor="end" fill="#2a2a2a" stroke="#2a2a2a" stroke-width="0.14">2</text>
<line x1="202.00" y1="207.00" x2="205.30" y2="207.00" stroke="#1c1c1c" stroke-width="1.0"/>
<text x="198.50" y="209.45" font-size="7.6" text-anchor="end" fill="#2a2a2a" stroke="#2a2a2a" stroke-width="0.14">3</text>
<line x1="202.00" y1="186.60" x2="205.30" y2="186.60" stroke="#1c1c1c" stroke-width="1.0"/>
<text x="198.50" y="189.05" font-size="7.6" text-anchor="end" fill="#2a2a2a" stroke="#2a2a2a" stroke-width="0.14">4</text>
<text transform="translate(188.2,268.4) rotate(-90)" font-size="10" textLength="84.2" lengthAdjust="spacingAndGlyphs" fill="#151515" stroke="#151515" stroke-width="0.18">Blood CD8/CD4 ratio</text>
<line x1="216.60" y1="268.20" x2="216.60" y2="271.40" stroke="#1c1c1c" stroke-width="1.0"/>
<text transform="translate(220.10,278.20) rotate(-45)" font-size="7" text-anchor="end" fill="#151515" stroke="#151515" stroke-width="0.22">W0</text>
<line x1="233.30" y1="268.20" x2="233.30" y2="271.40" stroke="#1c1c1c" stroke-width="1.0"/>
<text transform="translate(236.80,278.20) rotate(-45)" font-size="7" text-anchor="end" fill="#151515" stroke="#151515" stroke-width="0.22">W1</text>
<line x1="250.00" y1="268.20" x2="250.00" y2="271.40" stroke="#1c1c1c" stroke-width="1.0"/>
<text transform="translate(253.50,278.20) rotate(-45)" font-size="7" text-anchor="end" fill="#151515" stroke="#151515" stroke-width="0.22">W2</text>
<line x1="266.70" y1="268.20" x2="266.70" y2="271.40" stroke="#1c1c1c" stroke-width="1.0"/>
<text transform="translate(270.20,278.20) rotate(-45)" font-size="7" text-anchor="end" fill="#151515" stroke="#151515" stroke-width="0.22">W3</text>
<line x1="283.40" y1="268.20" x2="283.40" y2="271.40" stroke="#1c1c1c" stroke-width="1.0"/>
<text transform="translate(286.90,278.20) rotate(-45)" font-size="7" text-anchor="end" fill="#151515" stroke="#151515" stroke-width="0.22">W4</text>
<line x1="300.10" y1="268.20" x2="300.10" y2="271.40" stroke="#1c1c1c" stroke-width="1.0"/>
<text transform="translate(303.60,278.20) rotate(-45)" font-size="7" text-anchor="end" fill="#151515" stroke="#151515" stroke-width="0.22">W5</text>
<line x1="316.80" y1="268.20" x2="316.80" y2="271.40" stroke="#1c1c1c" stroke-width="1.0"/>
<text transform="translate(320.30,278.20) rotate(-45)" font-size="7" text-anchor="end" fill="#151515" stroke="#151515" stroke-width="0.22">W5/6</text>
<line x1="216.60" y1="242.29" x2="216.60" y2="252.49" stroke="#1c1c1c" stroke-width="1.0"/>
<line x1="214.20" y1="242.29" x2="219.00" y2="242.29" stroke="#1c1c1c" stroke-width="1.0"/>
<line x1="214.20" y1="252.49" x2="219.00" y2="252.49" stroke="#1c1c1c" stroke-width="1.0"/>
<line x1="233.30" y1="239.23" x2="233.30" y2="251.47" stroke="#1c1c1c" stroke-width="1.0"/>
<line x1="230.90" y1="239.23" x2="235.70" y2="239.23" stroke="#1c1c1c" stroke-width="1.0"/>
<line x1="230.90" y1="251.47" x2="235.70" y2="251.47" stroke="#1c1c1c" stroke-width="1.0"/>
<line x1="250.00" y1="248.82" x2="250.00" y2="254.94" stroke="#1c1c1c" stroke-width="1.0"/>
<line x1="247.60" y1="248.82" x2="252.40" y2="248.82" stroke="#1c1c1c" stroke-width="1.0"/>
<line x1="247.60" y1="254.94" x2="252.40" y2="254.94" stroke="#1c1c1c" stroke-width="1.0"/>
<line x1="266.70" y1="250.25" x2="266.70" y2="255.14" stroke="#1c1c1c" stroke-width="1.0"/>
<line x1="264.30" y1="250.25" x2="269.10" y2="250.25" stroke="#1c1c1c" stroke-width="1.0"/>
<line x1="264.30" y1="255.14" x2="269.10" y2="255.14" stroke="#1c1c1c" stroke-width="1.0"/>
<line x1="283.40" y1="253.31" x2="283.40" y2="256.57" stroke="#1c1c1c" stroke-width="1.0"/>
<line x1="281.00" y1="253.31" x2="285.80" y2="253.31" stroke="#1c1c1c" stroke-width="1.0"/>
<line x1="281.00" y1="256.57" x2="285.80" y2="256.57" stroke="#1c1c1c" stroke-width="1.0"/>
<line x1="300.10" y1="254.33" x2="300.10" y2="257.59" stroke="#1c1c1c" stroke-width="1.0"/>
<line x1="297.70" y1="254.33" x2="302.50" y2="254.33" stroke="#1c1c1c" stroke-width="1.0"/>
<line x1="297.70" y1="257.59" x2="302.50" y2="257.59" stroke="#1c1c1c" stroke-width="1.0"/>
<line x1="316.80" y1="255.35" x2="316.80" y2="258.61" stroke="#1c1c1c" stroke-width="1.0"/>
<line x1="314.40" y1="255.35" x2="319.20" y2="255.35" stroke="#1c1c1c" stroke-width="1.0"/>
<line x1="314.40" y1="258.61" x2="319.20" y2="258.61" stroke="#1c1c1c" stroke-width="1.0"/>
<line x1="216.60" y1="238.42" x2="216.60" y2="253.10" stroke="#1c1c1c" stroke-width="1.0"/>
<line x1="214.20" y1="238.42" x2="219.00" y2="238.42" stroke="#1c1c1c" stroke-width="1.0"/>
<line x1="214.20" y1="253.10" x2="219.00" y2="253.10" stroke="#1c1c1c" stroke-width="1.0"/>
<line x1="233.30" y1="233.52" x2="233.30" y2="256.37" stroke="#1c1c1c" stroke-width="1.0"/>
<line x1="230.90" y1="233.52" x2="235.70" y2="233.52" stroke="#1c1c1c" stroke-width="1.0"/>
<line x1="230.90" y1="256.37" x2="235.70" y2="256.37" stroke="#1c1c1c" stroke-width="1.0"/>
<line x1="250.00" y1="245.56" x2="250.00" y2="253.72" stroke="#1c1c1c" stroke-width="1.0"/>
<line x1="247.60" y1="245.56" x2="252.40" y2="245.56" stroke="#1c1c1c" stroke-width="1.0"/>
<line x1="247.60" y1="253.72" x2="252.40" y2="253.72" stroke="#1c1c1c" stroke-width="1.0"/>
<line x1="266.70" y1="249.43" x2="266.70" y2="254.33" stroke="#1c1c1c" stroke-width="1.0"/>
<line x1="264.30" y1="249.43" x2="269.10" y2="249.43" stroke="#1c1c1c" stroke-width="1.0"/>
<line x1="264.30" y1="254.33" x2="269.10" y2="254.33" stroke="#1c1c1c" stroke-width="1.0"/>
<line x1="283.40" y1="252.29" x2="283.40" y2="255.55" stroke="#1c1c1c" stroke-width="1.0"/>
<line x1="281.00" y1="252.29" x2="285.80" y2="252.29" stroke="#1c1c1c" stroke-width="1.0"/>
<line x1="281.00" y1="255.55" x2="285.80" y2="255.55" stroke="#1c1c1c" stroke-width="1.0"/>
<line x1="300.10" y1="252.29" x2="300.10" y2="255.55" stroke="#1c1c1c" stroke-width="1.0"/>
<line x1="297.70" y1="252.29" x2="302.50" y2="252.29" stroke="#1c1c1c" stroke-width="1.0"/>
<line x1="297.70" y1="255.55" x2="302.50" y2="255.55" stroke="#1c1c1c" stroke-width="1.0"/>
<line x1="316.80" y1="251.47" x2="316.80" y2="255.55" stroke="#1c1c1c" stroke-width="1.0"/>
<line x1="314.40" y1="251.47" x2="319.20" y2="251.47" stroke="#1c1c1c" stroke-width="1.0"/>
<line x1="314.40" y1="255.55" x2="319.20" y2="255.55" stroke="#1c1c1c" stroke-width="1.0"/>
<line x1="216.60" y1="250.45" x2="216.60" y2="255.35" stroke="#1c1c1c" stroke-width="1.0"/>
<line x1="214.20" y1="250.45" x2="219.00" y2="250.45" stroke="#1c1c1c" stroke-width="1.0"/>
<line x1="214.20" y1="255.35" x2="219.00" y2="255.35" stroke="#1c1c1c" stroke-width="1.0"/>
<line x1="266.70" y1="250.66" x2="266.70" y2="254.74" stroke="#1c1c1c" stroke-width="1.0"/>
<line x1="264.30" y1="250.66" x2="269.10" y2="250.66" stroke="#1c1c1c" stroke-width="1.0"/>
<line x1="264.30" y1="254.74" x2="269.10" y2="254.74" stroke="#1c1c1c" stroke-width="1.0"/>
<line x1="283.40" y1="228.83" x2="283.40" y2="243.11" stroke="#1c1c1c" stroke-width="1.0"/>
<line x1="281.00" y1="228.83" x2="285.80" y2="228.83" stroke="#1c1c1c" stroke-width="1.0"/>
<line x1="281.00" y1="243.11" x2="285.80" y2="243.11" stroke="#1c1c1c" stroke-width="1.0"/>
<line x1="300.10" y1="203.74" x2="300.10" y2="224.14" stroke="#1c1c1c" stroke-width="1.0"/>
<line x1="297.70" y1="203.74" x2="302.50" y2="203.74" stroke="#1c1c1c" stroke-width="1.0"/>
<line x1="297.70" y1="224.14" x2="302.50" y2="224.14" stroke="#1c1c1c" stroke-width="1.0"/>
<line x1="316.80" y1="198.02" x2="316.80" y2="222.50" stroke="#1c1c1c" stroke-width="1.0"/>
<line x1="314.40" y1="198.02" x2="319.20" y2="198.02" stroke="#1c1c1c" stroke-width="1.0"/>
<line x1="314.40" y1="222.50" x2="319.20" y2="222.50" stroke="#1c1c1c" stroke-width="1.0"/>
<line x1="216.60" y1="251.06" x2="216.60" y2="255.96" stroke="#1c1c1c" stroke-width="1.0"/>
<line x1="214.20" y1="251.06" x2="219.00" y2="251.06" stroke="#1c1c1c" stroke-width="1.0"/>
<line x1="214.20" y1="255.96" x2="219.00" y2="255.96" stroke="#1c1c1c" stroke-width="1.0"/>
<line x1="266.70" y1="251.06" x2="266.70" y2="255.14" stroke="#1c1c1c" stroke-width="1.0"/>
<line x1="264.30" y1="251.06" x2="269.10" y2="251.06" stroke="#1c1c1c" stroke-width="1.0"/>
<line x1="264.30" y1="255.14" x2="269.10" y2="255.14" stroke="#1c1c1c" stroke-width="1.0"/>
<line x1="283.40" y1="231.89" x2="283.40" y2="244.13" stroke="#1c1c1c" stroke-width="1.0"/>
<line x1="281.00" y1="231.89" x2="285.80" y2="231.89" stroke="#1c1c1c" stroke-width="1.0"/>
<line x1="281.00" y1="244.13" x2="285.80" y2="244.13" stroke="#1c1c1c" stroke-width="1.0"/>
<line x1="300.10" y1="208.22" x2="300.10" y2="226.58" stroke="#1c1c1c" stroke-width="1.0"/>
<line x1="297.70" y1="208.22" x2="302.50" y2="208.22" stroke="#1c1c1c" stroke-width="1.0"/>
<line x1="297.70" y1="226.58" x2="302.50" y2="226.58" stroke="#1c1c1c" stroke-width="1.0"/>
<line x1="316.80" y1="204.96" x2="316.80" y2="231.48" stroke="#1c1c1c" stroke-width="1.0"/>
<line x1="314.40" y1="204.96" x2="319.20" y2="204.96" stroke="#1c1c1c" stroke-width="1.0"/>
<line x1="314.40" y1="231.48" x2="319.20" y2="231.48" stroke="#1c1c1c" stroke-width="1.0"/>
<polyline points="216.60,247.39 233.30,245.35 250.00,251.88 266.70,252.70 283.40,254.94 300.10,255.96 316.80,256.98" fill="none" stroke="#5a5f6a" stroke-width="0.95"/>
<polyline points="216.60,245.76 233.30,244.94 250.00,249.64 266.70,251.88 283.40,253.92 300.10,253.92 316.80,253.51" fill="none" stroke="#4f71a3" stroke-width="0.95"/>
<polyline points="216.60,252.90 233.30,256.98 250.00,255.55 266.70,252.70 283.40,235.97 300.10,213.94 316.80,210.26" fill="none" stroke="#7a4b2c" stroke-width="0.95"/>
<polyline points="216.60,253.51 233.30,256.98 250.00,255.55 266.70,253.10 283.40,238.01 300.10,217.40 316.80,218.22" fill="none" stroke="#66ad45" stroke-width="0.95"/>
<circle cx="216.60" cy="247.39" r="1.6" fill="#c8cacf" stroke="#5a5f6a" stroke-width="1.15"/>
<circle cx="233.30" cy="245.35" r="1.6" fill="#c8cacf" stroke="#5a5f6a" stroke-width="1.15"/>
<circle cx="250.00" cy="251.88" r="1.6" fill="#c8cacf" stroke="#5a5f6a" stroke-width="1.15"/>
<circle cx="266.70" cy="252.70" r="1.6" fill="#c8cacf" stroke="#5a5f6a" stroke-width="1.15"/>
<circle cx="283.40" cy="254.94" r="1.6" fill="#c8cacf" stroke="#5a5f6a" stroke-width="1.15"/>
<circle cx="300.10" cy="255.96" r="1.6" fill="#c8cacf" stroke="#5a5f6a" stroke-width="1.15"/>
<circle cx="316.80" cy="256.98" r="1.6" fill="#c8cacf" stroke="#5a5f6a" stroke-width="1.15"/>
<rect x="214.85" y="244.01" width="3.5" height="3.5" fill="#b9c6da" stroke="#4f71a3" stroke-width="1.15"/>
<rect x="231.55" y="243.19" width="3.5" height="3.5" fill="#b9c6da" stroke="#4f71a3" stroke-width="1.15"/>
<rect x="248.25" y="247.89" width="3.5" height="3.5" fill="#b9c6da" stroke="#4f71a3" stroke-width="1.15"/>
<rect x="264.95" y="250.13" width="3.5" height="3.5" fill="#b9c6da" stroke="#4f71a3" stroke-width="1.15"/>
<rect x="281.65" y="252.17" width="3.5" height="3.5" fill="#b9c6da" stroke="#4f71a3" stroke-width="1.15"/>
<rect x="298.35" y="252.17" width="3.5" height="3.5" fill="#b9c6da" stroke="#4f71a3" stroke-width="1.15"/>
<rect x="315.05" y="251.76" width="3.5" height="3.5" fill="#b9c6da" stroke="#4f71a3" stroke-width="1.15"/>
<circle cx="216.60" cy="252.90" r="2.05" fill="#7a4b2c"/>
<circle cx="233.30" cy="256.98" r="2.05" fill="#7a4b2c"/>
<circle cx="250.00" cy="255.55" r="2.05" fill="#7a4b2c"/>
<circle cx="266.70" cy="252.70" r="2.05" fill="#7a4b2c"/>
<circle cx="283.40" cy="235.97" r="2.05" fill="#7a4b2c"/>
<circle cx="300.10" cy="213.94" r="2.05" fill="#7a4b2c"/>
<circle cx="316.80" cy="210.26" r="2.05" fill="#7a4b2c"/>
<rect x="214.60" y="251.51" width="4.0" height="4.0" fill="#66ad45"/>
<rect x="231.30" y="254.98" width="4.0" height="4.0" fill="#66ad45"/>
<rect x="248.00" y="253.55" width="4.0" height="4.0" fill="#66ad45"/>
<rect x="264.70" y="251.10" width="4.0" height="4.0" fill="#66ad45"/>
<rect x="281.40" y="236.01" width="4.0" height="4.0" fill="#66ad45"/>
<rect x="298.10" y="215.40" width="4.0" height="4.0" fill="#66ad45"/>
<rect x="314.80" y="216.22" width="4.0" height="4.0" fill="#66ad45"/>
<line x1="211.60" y1="187.40" x2="221.80" y2="187.40" stroke="#5a5f6a" stroke-width="1.1"/>
<circle cx="216.70" cy="187.40" r="1.6" fill="#c8cacf" stroke="#5a5f6a" stroke-width="1.15"/>
<text x="225.10" y="189.80" font-size="6.8" text-anchor="start" textLength="9.40" lengthAdjust="spacingAndGlyphs" fill="#151515" stroke="#151515" stroke-width="0.14">PBS</text>
<line x1="211.60" y1="199.30" x2="221.80" y2="199.30" stroke="#4f71a3" stroke-width="1.1"/>
<rect x="214.95" y="197.55" width="3.5" height="3.5" fill="#b9c6da" stroke="#4f71a3" stroke-width="1.15"/>
<text x="225.10" y="201.70" font-size="6.8" text-anchor="start" textLength="36.00" lengthAdjust="spacingAndGlyphs" fill="#151515" stroke="#151515" stroke-width="0.14">PBS+α-CD303</text>
<line x1="211.60" y1="209.90" x2="221.80" y2="209.90" stroke="#7a4b2c" stroke-width="1.1"/>
<circle cx="216.70" cy="209.90" r="2.05" fill="#7a4b2c"/>
<text x="225.10" y="212.30" font-size="6.8" text-anchor="start" textLength="9.80" lengthAdjust="spacingAndGlyphs" fill="#151515" stroke="#151515" stroke-width="0.14">EBV</text>
<line x1="211.60" y1="221.30" x2="221.80" y2="221.30" stroke="#66ad45" stroke-width="1.1"/>
<rect x="214.70" y="219.30" width="4.0" height="4.0" fill="#66ad45"/>
<text x="225.10" y="223.70" font-size="6.8" text-anchor="start" textLength="36.00" lengthAdjust="spacingAndGlyphs" fill="#151515" stroke="#151515" stroke-width="0.14">EBV+α-CD303</text>
</g>
<rect x="0" y="0" width="520" height="1.2" fill="#111"/>
<rect x="0" y="301.8" width="520" height="1.2" fill="#111"/>
<rect x="0" y="0" width="1" height="303" fill="#7a7a7a"/>
<rect x="1" y="0" width="1" height="303" fill="#3c3c3c"/>
<rect x="518" y="0" width="1" height="303" fill="#454545"/>
<rect x="519" y="0" width="1" height="303" fill="#6a6a6a"/>
</svg>
</body></html>
